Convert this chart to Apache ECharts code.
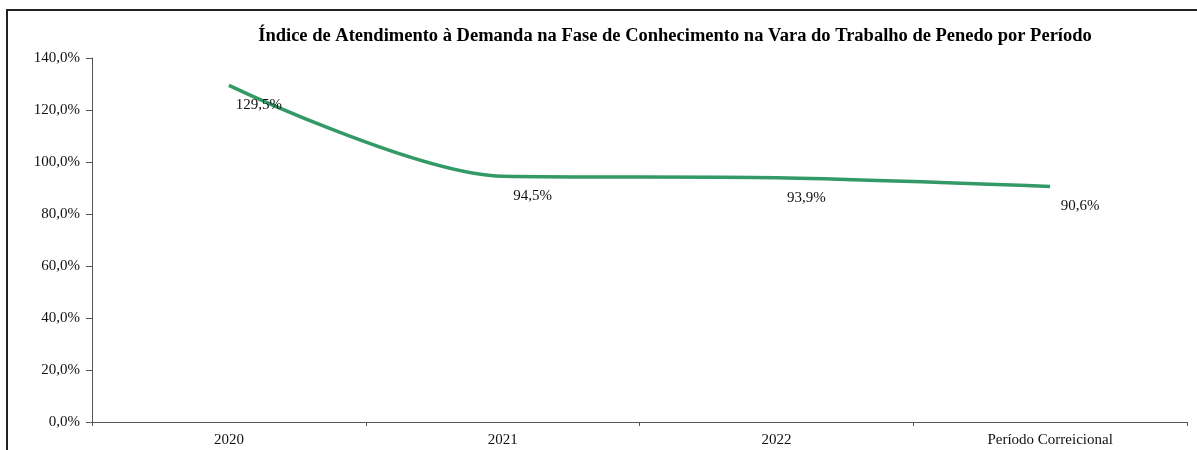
<!DOCTYPE html>
<html>
<head>
<meta charset="utf-8">
<script src="https://cdn.jsdelivr.net/npm/echarts@6/dist/echarts.min.js"></script>
<style>
  html, body { margin: 0; padding: 0; background: #fff; }
  #chart { width: 1197px; height: 450px; }
</style>
</head>
<body>
<div id="chart"></div>
<script>
const periodos = ["2020", "2021", "2022", "Período Correicional"];
const indice = [129.5, 94.5, 93.9, 90.6];
const yTicks = { min: 0, max: 140, step: 20 };

const fmt = v => v.toFixed(1).replace(".", ",") + "%";
const serif = "'Liberation Serif', 'DejaVu Serif', serif";

const chart = echarts.init(document.getElementById("chart"));
const option = {
  animation: false,
  backgroundColor: "#fff",
  title: {
    text: "Índice de Atendimento à Demanda na Fase de Conhecimento na Vara do Trabalho de Penedo por Período",
    left: 670,
    textAlign: "center",
    top: 22,
    textStyle: { fontFamily: serif, fontSize: 18.5, fontWeight: "bold", color: "#000" }
  },
  graphic: [
    {
      type: "rect",
      shape: { x: 7, y: 10, width: 1210, height: 460 },
      style: { fill: "none", stroke: "#222", lineWidth: 2 },
      silent: true
    }
  ],
  grid: { left: 92, right: 10, top: 58, bottom: 28 },
  xAxis: {
    type: "category",
    data: periodos,
    boundaryGap: true,
    axisLine: { lineStyle: { color: "#555", width: 1 } },
    axisTick: { show: true, length: 4, lineStyle: { color: "#555" } },
    axisLabel: { fontFamily: serif, fontSize: 15, color: "#111", margin: 11 }
  },
  yAxis: {
    type: "value",
    min: yTicks.min,
    max: yTicks.max,
    interval: yTicks.step,
    splitLine: { show: false },
    axisLine: { show: true, lineStyle: { color: "#555", width: 1 } },
    axisTick: { show: true, length: 6, lineStyle: { color: "#555" } },
    axisLabel: { fontFamily: serif, fontSize: 15, color: "#111", margin: 12, formatter: fmt }
  },
  series: [
    {
      type: "line",
      data: indice,
      smooth: 0.3,
      symbol: "circle",
      symbolSize: 1,
      itemStyle: { color: "rgba(0,0,0,0)" },
      lineStyle: { color: "#339966", width: 3.5 },
      label: {
        show: true,
        position: "bottom",
        distance: 12,
        offset: [30, 0],
        fontFamily: serif,
        fontSize: 15,
        color: "#111",
        formatter: p => fmt(p.value)
      }
    }
  ]
};
chart.setOption(option);
</script>
</body>
</html>
